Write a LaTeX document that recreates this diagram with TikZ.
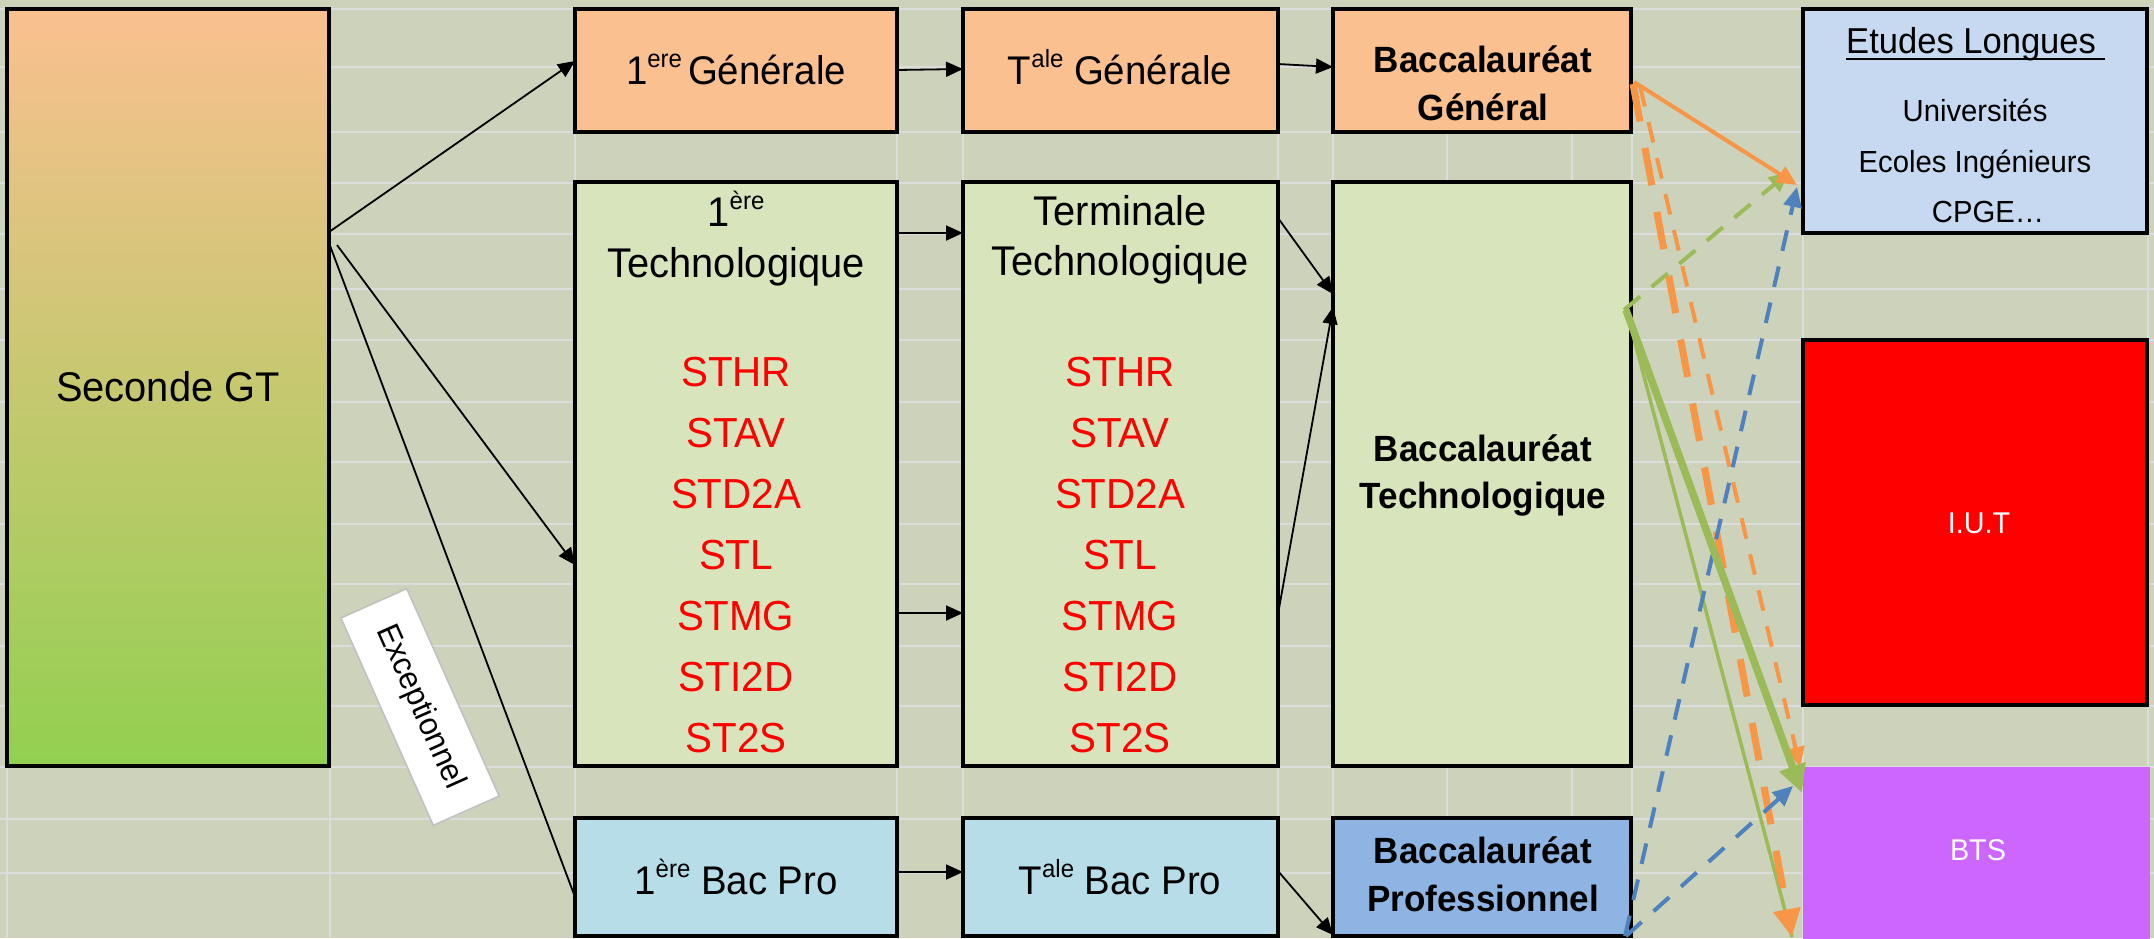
\documentclass[tikz,border=0pt]{standalone}
\usepackage{fontspec}
\setmainfont{Liberation Sans}[FakeStretch=0.96]
\usetikzlibrary{arrows.meta}
\definecolor{bg}{RGB}{205,210,187}
\definecolor{gridc}{RGB}{220,220,220}
\definecolor{orfill}{RGB}{250,192,144}
\definecolor{grfill}{RGB}{216,228,188}
\definecolor{secbot}{RGB}{146,208,80}
\definecolor{profill}{RGB}{183,222,232}
\definecolor{bacpro}{RGB}{141,180,226}
\definecolor{elfill}{RGB}{198,217,241}
\definecolor{btsfill}{RGB}{204,102,255}
\definecolor{aor}{RGB}{247,150,70}
\definecolor{agr}{RGB}{155,187,89}
\definecolor{abl}{RGB}{79,129,189}
\definecolor{txtred}{RGB}{255,0,0}
\newcommand{\fsz}[1]{\fontsize{#1}{#1}\selectfont}
\newcommand{\sups}[1]{\raisebox{17pt}{\fsz{25}#1}}
\begin{document}
\begin{tikzpicture}[x=1pt,y=-1pt,
  box/.style={draw=black, line width=3.5pt, anchor=north west, inner sep=0pt, outer sep=0pt},
  lbl/.style={anchor=base, inner sep=0pt, font=\fsz{40}},
  lblb/.style={anchor=base, inner sep=0pt, font=\fsz{41.5}},
  boldt/.style={anchor=base, inner sep=0pt, font=\fsz{36.5}\bfseries},
  redt/.style={anchor=base, inner sep=0pt, font=\fsz{42}, text=txtred},
  smallt/.style={anchor=base, inner sep=0pt, font=\fsz{30.5}},
  whitet/.style={anchor=base, inner sep=0pt, font=\fsz{30}, text=white},
  blk/.style={line width=1.8pt, -{Triangle[length=17pt,width=15pt]}},
  blkline/.style={line width=1.8pt},
  gline/.style={gridc, line width=2pt},
  thinhead/.style={-{Triangle[length=20pt,width=18pt]}},
  thickhead/.style={-{Triangle[length=28pt,width=26pt]}},
  ao/.style={aor, line width=4pt, thinhead},
  aod/.style={aor, line width=7pt, dash pattern=on 38pt off 27pt, thickhead},
  aot/.style={aor, line width=4pt, dash pattern=on 21pt off 16pt, thinhead},
  agd/.style={agr, line width=4pt, dash pattern=on 21pt off 15pt, thinhead},
  agt/.style={agr, line width=7.5pt, thickhead},
  agn/.style={agr, line width=3.5pt},
  abd/.style={abl, line width=4pt, dash pattern=on 21pt off 16pt, thinhead}
]
\useasboundingbox (0,0) rectangle (2154,938);
\fill[bg] (0,0) rectangle (2154,938);
% grid
\foreach \y in {9,67,132,183,234,289,340,402,462,524,584,646,706,767,819,873}
  \draw[gline] (0,\y) -- (2154,\y);
\foreach \x in {7,330,575,897,963,1278,1333,1447,1572,1632,1803,2148}
  \draw[gline] (\x,9) -- (\x,938);

% boxes
\node[box, top color=orfill, bottom color=secbot, minimum width=322pt, minimum height=757pt] (sec) at (7,9) {};
\node[box, fill=orfill, minimum width=322pt, minimum height=123pt] (g1) at (575,9) {};
\node[box, fill=orfill, minimum width=315pt, minimum height=123pt] (g2) at (963,9) {};
\node[box, fill=orfill, minimum width=298pt, minimum height=123pt] (g3) at (1333,9) {};
\node[box, fill=grfill, minimum width=322pt, minimum height=584pt] (t1) at (575,182) {};
\node[box, fill=grfill, minimum width=315pt, minimum height=584pt] (t2) at (963,182) {};
\node[box, fill=grfill, minimum width=298pt, minimum height=584pt] (t3) at (1333,182) {};
\node[box, fill=profill, minimum width=322pt, minimum height=118pt] (p1) at (575,818) {};
\node[box, fill=profill, minimum width=315pt, minimum height=118pt] (p2) at (963,818) {};
\node[box, fill=bacpro, minimum width=298pt, minimum height=118pt] (p3) at (1333,818) {};
\node[box, fill=elfill, minimum width=344pt, minimum height=224pt] (el) at (1803,9) {};
\node[box, fill=red, minimum width=344pt, minimum height=365pt] (iut) at (1803,340) {};
\node[box, draw=none, fill=btsfill, minimum width=347pt, minimum height=180pt] (bts) at (1803,767) {};

% texts
\node[lblb] (tsec) at (168,401) {Seconde GT};
\node[lbl] (tg1) at (736,84) {1\sups{ere}\hspace{6pt}Générale};
\node[lbl] (tg2) at (1120,84) {T\sups{ale} Générale};
\node[boldt] (tg3a) at (1483,72) {Baccalauréat};
\node[boldt] (tg3b) at (1483,120) {Général};
\node[lblb] (tt1a) at (736,226) {1\sups{ère}};
\node[lblb] (tt1b) at (736,277) {Technologique};
\node[lblb] (tt2a) at (1120,225) {Terminale};
\node[lblb] (tt2b) at (1120,275) {Technologique};
\foreach \n/\y in {STHR/386,STAV/447,STD2A/508,STL/569,STMG/630,STI2D/691,ST2S/752} {
  \node[redt] (ra\n) at (736,\y) {\n};
  \node[redt] (rb\n) at (1120,\y) {\n};
}
\node[boldt] (tt3a) at (1483,461) {Baccalauréat};
\node[boldt] (tt3b) at (1483,508) {Technologique};
\node[lbl] (tp1) at (736,894) {1\sups{ère} Bac Pro};
\node[lbl] (tp2) at (1120,894) {T\sups{ale} Bac Pro};
\node[boldt] (tp3a) at (1483,863) {Baccalauréat};
\node[boldt] (tp3b) at (1483,911) {Professionnel};
\node[anchor=base west, inner sep=0pt, font=\fsz{36}] (tel) at (1846,53) {Etudes Longues};
\draw[line width=2pt] ([yshift=-6pt]tel.base west) -- ([xshift=9pt,yshift=-6pt]tel.base east);
\node[smallt] (tel1) at (1975,121) {Universités};
\node[smallt] (tel2) at (1975,172) {Ecoles Ingénieurs};
\node[smallt] (tel3) at (1988,222) {CPGE…};
\node[whitet] (tiut) at (1979,533) {I.U.T};
\node[whitet] (tbts) at (1978,860) {BTS};
\node[draw={rgb,255:red,192;green,192;blue,192}, fill=white, line width=1.5pt, rotate=-66,
      minimum width=227pt, minimum height=72pt, inner sep=0pt, font=\fsz{32}] (exc) at (420,707) {Exceptionnel};

% black arrows
\draw[blk] ([yshift=-223pt]sec.north east) -- ([yshift=-52pt]g1.north west);
\draw[blk] ([xshift=8pt,yshift=-236pt]sec.north east) -- ([yshift=-383pt]t1.north west);
\draw[blkline] ([yshift=-234pt]sec.north east) -- ([yshift=-79pt]p1.north west);
\draw[blk] ([yshift=-61pt]g1.north east) -- ([yshift=-60pt]g2.north west);
\draw[blk] ([yshift=-55pt]g2.north east) -- ([yshift=-58pt]g3.north west);
\draw[blk] ([yshift=-51pt]t1.north east) -- ([yshift=-51pt]t2.north west);
\draw[blk] ([yshift=-431pt]t1.north east) -- ([yshift=-431pt]t2.north west);
\draw[blk] ([yshift=-36pt]t2.north east) -- ([yshift=-112pt]t3.north west);
\draw[blk] ([yshift=-432pt]t2.north east) -- ([yshift=-125pt]t3.north west);
\draw[blk] ([yshift=-54pt]p1.north east) -- ([yshift=-54pt]p2.north west);
\draw[blk] ([yshift=-53pt]p2.north east) -- ([yshift=-117pt]p3.north west);

% coloured arrows
\draw[agn] ([xshift=-4pt,yshift=-130pt]t3.north east) -- ([xshift=-11pt,yshift=-170pt]bts.north west);
\draw[aot] ([xshift=9pt,yshift=-77pt]g3.north east) -- ([xshift=-3pt]bts.north west);
\draw[aod] ([xshift=2pt,yshift=-75pt]g3.north east) -- ([xshift=-11pt,yshift=-170pt]bts.north west);
\draw[abd] ([xshift=-6pt,yshift=-118pt]p3.north east) -- ([xshift=-6pt,yshift=-178pt]el.north west);
\draw[abd] ([xshift=-5pt,yshift=-118pt]p3.north east) -- ([xshift=-10pt,yshift=-19pt]bts.north west);
\draw[agd] ([xshift=-7pt,yshift=-128pt]t3.north east) -- ([xshift=-14pt,yshift=-163pt]el.north west);
\draw[agt] ([xshift=-5pt,yshift=-128pt]t3.north east) -- ([xshift=-1pt,yshift=-26pt]bts.north west);
\draw[ao] ([xshift=3pt,yshift=-73pt]g3.north east) -- ([xshift=-6pt,yshift=-176pt]el.north west);
\end{tikzpicture}
\end{document}
